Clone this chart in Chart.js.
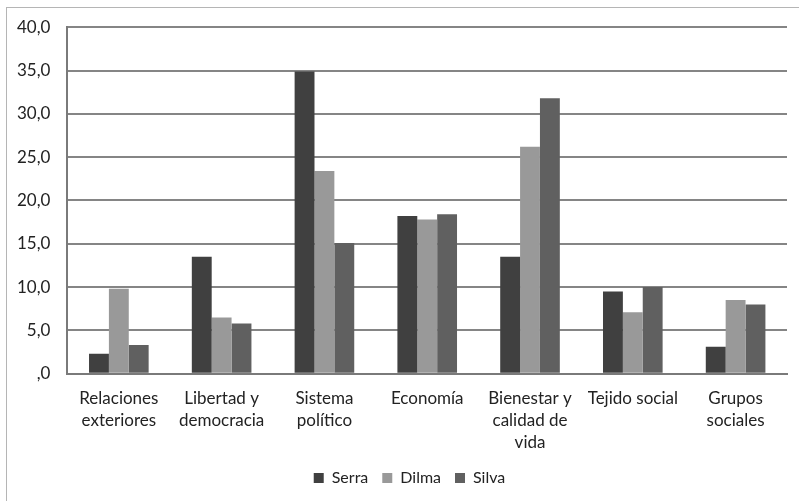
<!DOCTYPE html>
<html>
<head>
<meta charset="utf-8">
<script src="https://cdn.jsdelivr.net/npm/chart.js@4/dist/chart.umd.min.js"></script>
<style>
  html, body { margin: 0; padding: 0; background: #fff; }
  #wrap { position: relative; width: 799px; height: 501px; overflow: hidden; }
  #frame { position: absolute; left: 6px; top: 7px; width: 820px; height: 520px;
           border-left: 1px solid #b5b5b5; border-top: 1px solid #b5b5b5; }
  canvas { position: absolute; left: 0; top: 0; }
</style>
</head>
<body>
<div id="wrap">
  <div id="frame"></div>
  <canvas id="c" width="799" height="501"></canvas>
</div>
<script>
// Topic categories (multi-line labels)
const categories = [
  ["Relaciones", "exteriores"],
  ["Libertad y", "democracia"],
  ["Sistema", "político"],
  "Economía",
  ["Bienestar y", "calidad de", "vida"],
  "Tejido social",
  ["Grupos", "sociales"]
];

// Share per candidate (%)
const serra = [2.3, 13.5, 34.9, 18.2, 13.5, 9.5, 3.1];
const dilma = [9.8, 6.5, 23.4, 17.8, 26.2, 7.1, 8.5];
const silva = [3.3, 5.8, 15.1, 18.4, 31.8, 10.0, 8.0];

const seriesNames = ["Serra", "Dilma", "Silva"];
const yTicks = [0, 5, 10, 15, 20, 25, 30, 35, 40];

const fontFamily = "Lato, 'DejaVu Sans', sans-serif";

function fmt(v) {
  // Spanish decimal comma, zero shown as ",0"
  if (v === 0) return ",0";
  return v.toFixed(1).replace(".", ",");
}

// Nudge the legend row a little to the right of the canvas centre
const legendShift = {
  id: "legendShift",
  afterLayout(chart) {
    const lg = chart.legend;
    if (lg) { lg.left += 16; lg.right += 16; }
  }
};

new Chart(document.getElementById("c"), {
  type: "bar",
  data: {
    labels: categories,
    datasets: [
      { label: seriesNames[0], data: serra, backgroundColor: "#404040" },
      { label: seriesNames[1], data: dilma, backgroundColor: "#999999" },
      { label: seriesNames[2], data: silva, backgroundColor: "#606060" }
    ]
  },
  plugins: [legendShift],
  options: {
    responsive: false,
    animation: false,
    devicePixelRatio: 1,
    layout: { padding: { top: 18, right: 12, left: 0, bottom: 5 } },
    datasets: {
      bar: { categoryPercentage: 0.58, barPercentage: 1.0, borderWidth: 0 }
    },
    scales: {
      x: {
        grid: { display: false, drawTicks: false },
        border: { display: true, color: "#7a7a7a", width: 2 },
        // tighten the space reserved under the wrapped category labels
        afterFit: (scale) => { scale.height -= 12; },
        ticks: {
          color: "#222",
          font: { family: fontFamily, size: 17, lineHeight: 1.3 },
          padding: 14,
          maxRotation: 0,
          autoSkip: false
        }
      },
      y: {
        min: 0,
        max: 40,
        afterBuildTicks: (axis) => { axis.ticks = yTicks.map(v => ({ value: v })); },
        grid: { color: "#858585", lineWidth: 2, drawTicks: false },
        border: { display: true, color: "#7a7a7a", width: 2 },
        ticks: {
          color: "#222",
          font: { family: fontFamily, size: 17 },
          padding: 17,
          callback: (v) => fmt(v)
        }
      }
    },
    plugins: {
      tooltip: { enabled: false },
      legend: {
        position: "bottom",
        labels: {
          color: "#222",
          font: { family: fontFamily, size: 16 },
          boxWidth: 10,
          boxHeight: 10,
          padding: 14,
          useBorderRadius: false
        }
      }
    }
  }
});
</script>
</body>
</html>
